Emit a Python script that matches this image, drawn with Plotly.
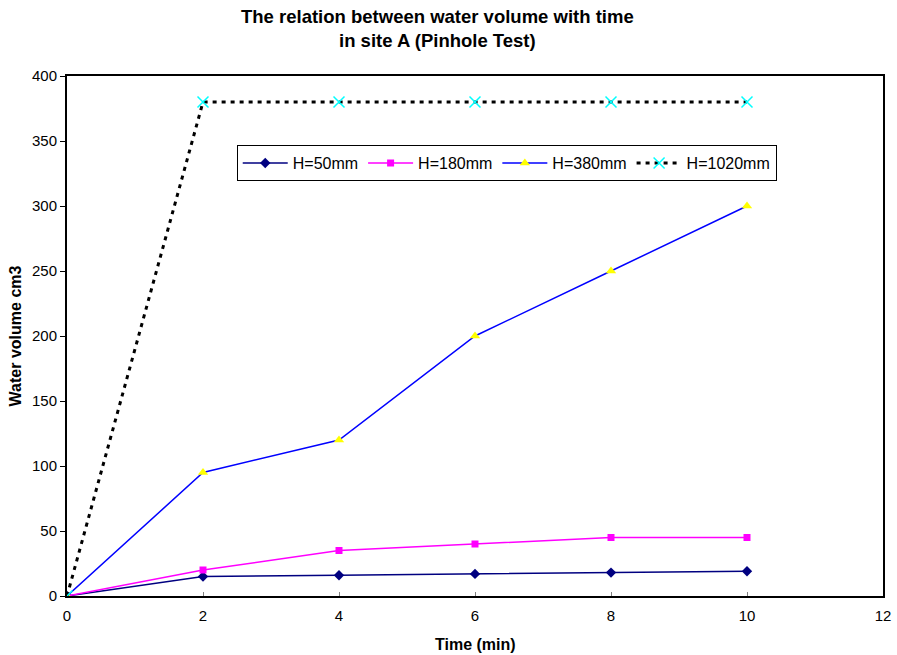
import plotly.graph_objects as go

time_min = [0, 2, 4, 6, 8, 10]
h50 = [0, 15, 16, 17, 18, 19]
h180 = [0, 20, 35, 40, 45, 45]
h380 = [0, 95, 120, 200, 250, 300]
h1020 = [0, 380, 380, 380, 380, 380]
x_ticks = [0, 2, 4, 6, 8, 10, 12]
y_ticks = [0, 50, 100, 150, 200, 250, 300, 350, 400]

font = "Arial, Liberation Sans, sans-serif"

fig = go.Figure()
fig.add_trace(go.Scatter(
    x=time_min, y=h50, name="H=50mm", mode="lines+markers",
    line=dict(color="#000080", width=1.5),
    marker=dict(symbol="diamond", size=8, color="#000080"),
))
fig.add_trace(go.Scatter(
    x=time_min, y=h180, name="H=180mm", mode="lines+markers",
    line=dict(color="#FF00FF", width=1.5),
    marker=dict(symbol="square", size=7, color="#FF00FF"),
))
fig.add_trace(go.Scatter(
    x=time_min, y=h380, name="H=380mm", mode="lines+markers",
    line=dict(color="#0000FF", width=1.5),
    marker=dict(symbol="triangle-up", size=9, color="#FFFF00"),
))
fig.add_trace(go.Scatter(
    x=time_min, y=h1020, name="H=1020mm", mode="lines+markers",
    line=dict(color="#000000", width=3, dash="4px,5px"),
    marker=dict(symbol="x-thin", size=11, color="#00FFFF",
                line=dict(color="#00FFFF", width=1.5)),
))

# chart title (two lines, bold)
fig.add_annotation(
    text="<b>The relation between water volume with time<br>in site A (Pinhole Test)</b>",
    xref="paper", yref="paper", x=0.454, y=1.092,
    xanchor="center", yanchor="middle", showarrow=False,
    font=dict(family=font, size=18.5, color="black"),
)
# x-axis title
fig.add_annotation(
    text="<b>Time (min)</b>",
    xref="paper", yref="paper", x=0.5, y=-0.094,
    xanchor="center", yanchor="middle", showarrow=False,
    font=dict(family=font, size=16, color="black"),
)

fig.update_layout(
    width=897, height=655,
    margin=dict(l=67, r=14, t=76, b=59),
    paper_bgcolor="white", plot_bgcolor="white",
    font=dict(family=font, size=15, color="black"),
    legend=dict(
        orientation="h", x=0.208, y=0.867, xanchor="left", yanchor="top",
        bgcolor="white", bordercolor="black", borderwidth=1,
        font=dict(family=font, size=16),
        itemwidth=45, tracegroupgap=0,
    ),
    xaxis=dict(
        range=[0, 12], tickvals=x_ticks, ticktext=[str(v) for v in x_ticks],
        showgrid=False, zeroline=False, automargin=False,
        showline=True, linecolor="black", linewidth=2, mirror=True,
        ticks="inside", ticklen=4, tickcolor="#808080",
        ticklabelstandoff=5,
        tickfont=dict(family=font, size=15),
    ),
    yaxis=dict(
        range=[0, 400], tickvals=y_ticks, ticktext=[str(v) for v in y_ticks],
        showgrid=False, zeroline=False,
        showline=True, linecolor="black", linewidth=2, mirror=True,
        ticks="outside", ticklen=5, tickcolor="black",
        tickfont=dict(family=font, size=15),
        title=dict(text="<b>Water volume cm3</b>", font=dict(family=font, size=16), standoff=6),
    ),
)

fig.write_html("out.html")
